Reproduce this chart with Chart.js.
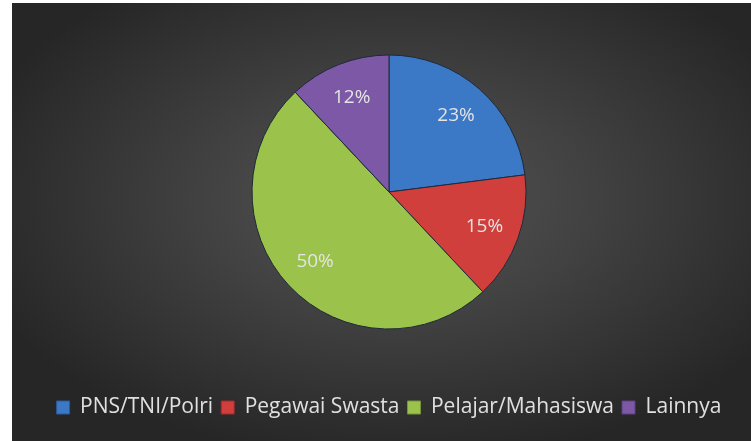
<!DOCTYPE html>
<html>
<head>
<meta charset="utf-8">
<script src="https://cdn.jsdelivr.net/npm/chart.js@4.4.0/dist/chart.umd.min.js"></script>
<style>
  html, body { margin: 0; padding: 0; background: #fff; }
  #wrap {
    position: absolute; left: 12px; top: 3px; width: 739px; height: 438px;
    background: radial-gradient(ellipse 60% 60% at 52% 45%, #555555 0%, #414141 45%, #262626 100%);
  }
  #box { position: absolute; left: 0; top: -8px; width: 739px; height: 446px; }
</style>
</head>
<body>
<div id="wrap"><div id="box"><canvas id="myChart"></canvas></div></div>
<script>
// data
const categories = ['PNS/TNI/Polri', 'Pegawai Swasta', 'Pelajar/Mahasiswa', 'Lainnya'];
const shares = [23, 15, 50, 12];
const sliceColors = ['#3b78c6', '#d13f3c', '#9bc24a', '#7c58a6'];
const sliceEdges = ['#2a5a9c', '#a02c2a', '#77963a', '#5c4080'];
const sliceLights = ['#5b93da', '#e0605c', '#b0d466', '#9676bd'];

// percent labels drawn at each arc's own centroid
const pctLabels = {
  id: 'pctLabels',
  afterDatasetsDraw(chart) {
    const ctx = chart.ctx;
    const meta = chart.getDatasetMeta(0);
    ctx.save();
    ctx.font = '19px "Open Sans", sans-serif';
    ctx.fillStyle = '#e4e4e4';
    ctx.textAlign = 'center';
    ctx.textBaseline = 'middle';
    meta.data.forEach((arc, i) => {
      const p = arc.getProps(['startAngle', 'endAngle', 'outerRadius', 'x', 'y'], true);
      const mid = (p.startAngle + p.endAngle) / 2;
      const r = p.outerRadius * 0.74;
      ctx.fillText(shares[i] + '%', p.x + Math.cos(mid) * r, p.y + Math.sin(mid) * r);
    });
    ctx.restore();
  }
};

function sliceFill(c) {
  const i = c.dataIndex;
  const arc = c.element;
  if (!arc || !arc.x) return sliceColors[i];
  const g = c.chart.ctx.createRadialGradient(arc.x, arc.y, 0, arc.x, arc.y, arc.outerRadius);
  g.addColorStop(0, sliceColors[i]);
  g.addColorStop(0.88, sliceColors[i]);
  g.addColorStop(0.93, sliceLights[i]);
  g.addColorStop(1, sliceEdges[i]);
  return g;
}

const config = {
  type: 'pie',
  data: {
    labels: categories,
    datasets: [{
      data: shares,
      backgroundColor: sliceFill,
      borderColor: '#1e2a3a',
      borderWidth: 1,
      radius: 137
    }]
  },
  options: {
    responsive: true,
    maintainAspectRatio: false,
    animation: false,
    layout: { padding: { left: 15, top: 0, bottom: 13 } },
    plugins: {
      tooltip: { enabled: false },
      legend: {
        position: 'bottom',
        labels: {
          color: '#e0e0e0',
          font: { size: 21, family: '"Open Sans", sans-serif' },
          boxWidth: 13,
          boxHeight: 13,
          padding: 8,
          generateLabels(chart) {
            return categories.map((name, i) => ({
              text: name,
              fillStyle: sliceColors[i],
              strokeStyle: sliceEdges[i],
              lineWidth: 1,
              fontColor: '#e0e0e0',
              index: i
            }));
          }
        }
      }
    }
  },
  plugins: [pctLabels]
};

const myChart = new Chart(document.getElementById('myChart'), config);
</script>
</body>
</html>
